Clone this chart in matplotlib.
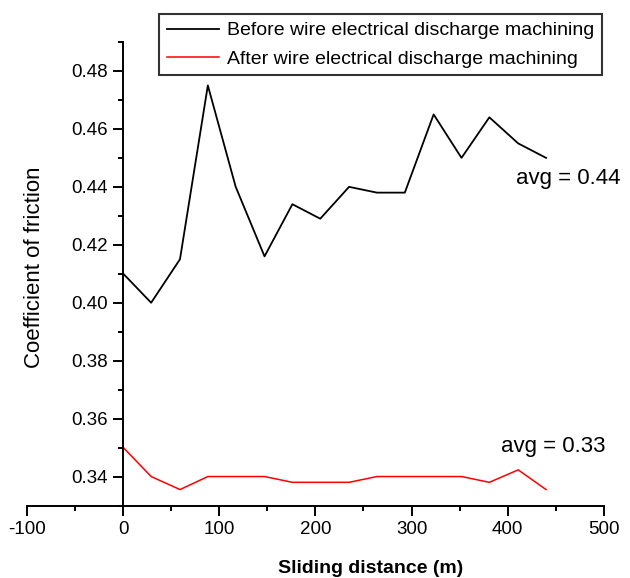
import matplotlib
matplotlib.use("Agg")
import matplotlib.pyplot as plt
from matplotlib.ticker import MultipleLocator

plt.rcParams['font.family'] = ['Liberation Sans', 'DejaVu Sans']
plt.rcParams['axes.unicode_minus'] = False

# sliding distance (m)
distance = [0, 29, 59, 88, 117, 147, 176, 205, 235, 264, 293, 323, 352, 381, 411, 440]
before_cof = [0.410, 0.400, 0.415, 0.475, 0.440, 0.416, 0.434, 0.429,
              0.440, 0.438, 0.438, 0.465, 0.450, 0.464, 0.455, 0.450]
after_cof = [0.350, 0.340, 0.3355, 0.340, 0.340, 0.340, 0.338, 0.338,
             0.338, 0.340, 0.340, 0.340, 0.340, 0.338, 0.3423, 0.3355]
before_label = 'Before wire electrical discharge machining'
after_label = 'After wire electrical discharge machining'
avg_before = 'avg = 0.44'
avg_after = 'avg = 0.33'

fig = plt.figure(figsize=(6.3, 5.78), dpi=100)
ax = fig.add_axes([27.2 / 630, 1 - 505.5 / 578, 576.5 / 630, 463.5 / 578])

ax.plot(distance, before_cof, color='black', lw=1.3, label=before_label)
ax.plot(distance, after_cof, color='red', lw=1.1, label=after_label)

ax.set_xlim(-100, 500)
ax.set_ylim(0.33, 0.49)
ax.xaxis.set_major_locator(MultipleLocator(100))
ax.xaxis.set_minor_locator(MultipleLocator(50))
ax.yaxis.set_major_locator(MultipleLocator(0.02))
ax.yaxis.set_minor_locator(MultipleLocator(0.01))
ax.yaxis.set_major_formatter(plt.FormatStrFormatter('%.2f'))

ax.spines['left'].set_position(('data', 0))
ax.spines['top'].set_visible(False)
ax.spines['right'].set_visible(False)
for s in ('left', 'bottom'):
    ax.spines[s].set_linewidth(1.4)
ax.tick_params(which='major', direction='out', length=7, width=1.4,
               labelsize=13.5, pad=4)
ax.tick_params(which='minor', direction='out', length=3.8, width=1.4)

ax.text(409, 0.4411, avg_before, fontsize=16, ha='left', va='baseline')
ax.text(393, 0.3484, avg_after, fontsize=16, ha='left', va='baseline')

fig.text(35 / 630, 1 - 267.5 / 578, 'Coefficient of friction', rotation=90,
         fontsize=16, ha='center', va='center')
fig.text(370.5 / 630, 1 - 573 / 578, 'Sliding distance (m)', fontsize=14,
         fontweight='bold', ha='center', va='baseline')

leg = ax.legend(loc='upper right', bbox_to_anchor=(602.3 / 630, 1 - 14 / 578),
                bbox_transform=fig.transFigure, borderaxespad=0,
                fontsize=14, frameon=True, fancybox=False, handlelength=2.7,
                handletextpad=0.4, borderpad=0.4, labelspacing=0.55)
leg.get_frame().set_edgecolor('black')
leg.get_frame().set_linewidth(1.5)

fig.savefig('out.png', dpi=100)
